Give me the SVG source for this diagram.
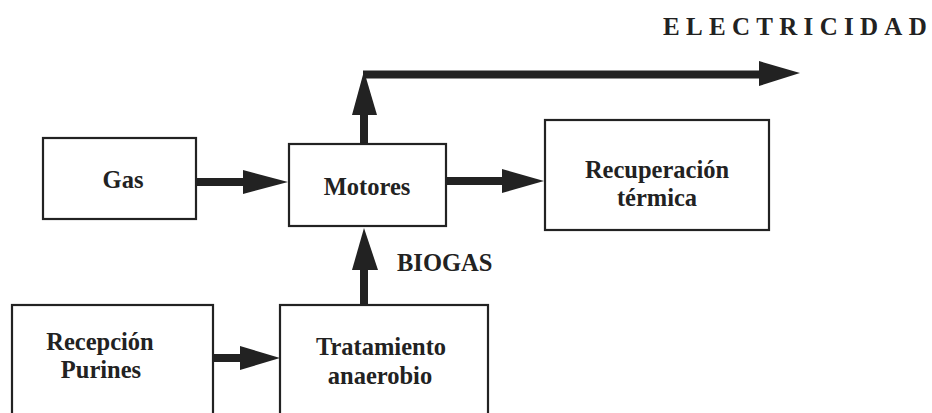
<svg xmlns="http://www.w3.org/2000/svg" width="932" height="413" viewBox="0 0 932 413">
<style>
.box{fill:#fff;stroke:#222;stroke-width:2.2}
.t{font-family:"Liberation Serif","Times New Roman",serif;font-weight:bold;font-size:24.5px;fill:#222;text-anchor:middle}
.shaft{stroke:#222;stroke-width:8;fill:none}
.head{fill:#222}
</style>
<rect width="932" height="413" fill="#fff"/>
<g id="connectors">
  <!-- Gas -> Motores -->
  <line class="shaft" x1="197" y1="182" x2="245" y2="182"/>
  <polygon class="head" points="243,170 288,182 243,194"/>
  <!-- Motores -> Recuperacion -->
  <line class="shaft" x1="447" y1="181" x2="504" y2="181"/>
  <polygon class="head" points="502,169 544,181 502,193"/>
  <!-- Motores -> Electricidad -->
  <line class="shaft" x1="364" y1="143" x2="364" y2="112"/>
  <polygon class="head" points="352,115 364,71 377,115"/>
  <line class="shaft" x1="363" y1="74.5" x2="761" y2="74.5" stroke-width="7"/>
  <polygon class="head" points="759,61 800,73 759,86"/>
  <!-- Tratamiento -> Motores (BIOGAS) -->
  <line class="shaft" x1="364" y1="304" x2="364" y2="268"/>
  <polygon class="head" points="352,270 364,228 378,270"/>
  <!-- Recepcion -> Tratamiento -->
  <line class="shaft" x1="214" y1="358" x2="242" y2="358"/>
  <polygon class="head" points="240,346 280,358 240,370"/>
  <text x="397" y="271" class="t" style="text-anchor:start">BIOGAS</text>
  <text x="663" y="35" class="t" style="text-anchor:start;font-size:25px;letter-spacing:6.3px">ELECTRICIDAD</text>
</g>
<g id="gas">
  <rect class="box" x="43" y="138" width="153" height="81"/>
  <text class="t" x="123" y="188">Gas</text>
</g>
<g id="motores">
  <rect class="box" x="289" y="144" width="157" height="82"/>
  <text class="t" x="367" y="195">Motores</text>
</g>
<g id="recuperacion">
  <rect class="box" x="545" y="120" width="224" height="110"/>
  <text class="t" x="657" y="178">Recuperación</text>
  <text class="t" x="657" y="206">térmica</text>
</g>
<g id="recepcion">
  <rect class="box" x="12" y="305" width="201" height="120"/>
  <text class="t" x="100" y="350">Recepción</text>
  <text class="t" x="101" y="378">Purines</text>
</g>
<g id="tratamiento">
  <rect class="box" x="280" y="305" width="208" height="120"/>
  <text class="t" x="381" y="355">Tratamiento</text>
  <text class="t" x="380" y="384">anaerobio</text>
</g>
</svg>
